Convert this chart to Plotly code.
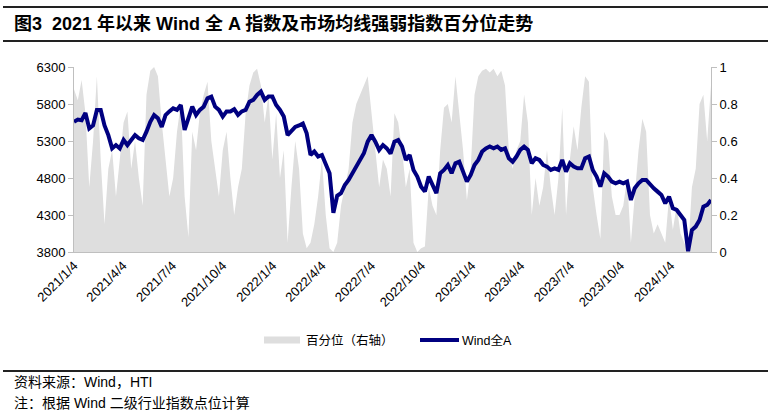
import plotly.graph_objects as go
import pandas as pd

# ---------------- data ----------------
start_date = "2021-01-04"

wind_a = [
    5561, 5590, 5580, 5680, 5470, 5510, 5720, 5720, 5510, 5380,
    5200, 5245, 5200, 5314, 5245, 5314, 5380, 5337, 5314, 5427,
    5560, 5650, 5607, 5490, 5650, 5700, 5742, 5720, 5787, 5450,
    5630, 5764, 5650, 5720, 5764, 5877, 5900, 5764, 5720, 5630,
    5700, 5700, 5730, 5652, 5700, 5720, 5831, 5855, 5922, 5967,
    5855, 5900, 5900, 5787, 5720, 5630, 5381, 5427, 5490, 5510,
    5537, 5404, 5111, 5158, 5090, 5111, 4976, 4864, 4330, 4560,
    4594, 4706, 4773, 4864, 4976, 5044, 5134, 5291, 5381, 5291,
    5179, 5245, 5200, 5130, 5291, 5314, 5225, 5044, 5111, 4909,
    4819, 4683, 4616, 4819, 4706, 4594, 4864, 4909, 4976, 4864,
    4999, 5020, 4886, 4751, 4841, 4976, 5044, 5157, 5200, 5225,
    5200, 5225, 5180, 5200, 5066, 5020, 5090, 5180, 5225, 5180,
    4999, 5066, 5044, 4976, 4954, 4909, 4931, 4909, 5044, 4886,
    4999, 4954, 4931, 4931, 5066, 5090, 4909, 4819, 4683, 4864,
    4819, 4751, 4728, 4751, 4728, 4751, 4503, 4661, 4728, 4773,
    4773, 4706, 4661, 4616, 4571, 4458, 4548, 4391, 4368, 4301,
    4233, 3810, 4098, 4143, 4233, 4413, 4436, 4503,
]

percentile = [
    0.88, 0.82, 0.93, 0.75, 0.35, 0.60, 0.95, 0.50, 0.15, 0.45,
    0.55, 0.30, 0.50, 0.70, 0.76, 0.45, 0.60, 0.40, 0.25, 0.85,
    0.98, 1.00, 0.95, 0.70, 0.50, 0.30, 0.40, 0.65, 0.80, 0.30,
    0.08, 0.65, 0.55, 0.75, 0.85, 0.92, 0.60, 0.45, 0.30, 0.55,
    0.65, 0.40, 0.20, 0.35, 0.45, 0.75, 0.90, 0.97, 0.99, 0.90,
    0.70, 0.85, 0.50, 0.75, 0.40, 0.55, 0.05, 0.35, 0.60, 0.45,
    0.10, 0.02, 0.05, 0.15, 0.30, 0.50, 0.20, 0.02, 0.00, 0.05,
    0.25, 0.35, 0.45, 0.70, 0.80, 0.85, 0.90, 0.95, 0.75, 0.55,
    0.35, 0.50, 0.45, 0.30, 0.75, 0.70, 0.55, 0.35, 0.45, 0.05,
    0.00, 0.02, 0.03, 0.35, 0.25, 0.20, 0.55, 0.78, 0.80, 0.70,
    0.95, 0.75, 0.55, 0.28, 0.45, 0.85, 0.95, 0.98, 0.99, 0.97,
    0.99, 0.95, 0.98, 0.90, 0.55, 0.45, 0.55, 0.60, 0.85, 0.70,
    0.20, 0.40, 0.25, 0.35, 0.55, 0.35, 0.20, 0.40, 0.78, 0.20,
    0.50, 0.68, 0.55, 0.78, 0.95, 0.92, 0.35, 0.20, 0.07, 0.65,
    0.60, 0.30, 0.20, 0.20, 0.25, 0.40, 0.05, 0.30, 0.55, 0.72,
    0.65, 0.20, 0.10, 0.15, 0.10, 0.05, 0.30, 0.12, 0.25, 0.10,
    0.05, 0.00, 0.35, 0.45, 0.80, 0.85, 0.60, 0.90,
]

dates = pd.date_range(start_date, periods=len(wind_a), freq="7D")

x_tick_vals = ["2021-01-04", "2021-04-04", "2021-07-04", "2021-10-04",
               "2022-01-04", "2022-04-04", "2022-07-04", "2022-10-04",
               "2023-01-04", "2023-04-04", "2023-07-04", "2023-10-04",
               "2024-01-04"]
x_tick_text = ["2021/1/4", "2021/4/4", "2021/7/4", "2021/10/4",
               "2022/1/4", "2022/4/4", "2022/7/4", "2022/10/4",
               "2023/1/4", "2023/4/4", "2023/7/4", "2023/10/4",
               "2024/1/4"]
left_ticks = [3800, 4300, 4800, 5300, 5800, 6300]
right_ticks = [0, 0.2, 0.4, 0.6, 0.8, 1]
right_tick_text = ["0", "0.2", "0.4", "0.6", "0.8", "1"]

title_text = "图3  2021 年以来 Wind 全 A 指数及市场均线强弱指数百分位走势"
legend_names = ["百分位（右轴）", "Wind全A"]
source_text = "资料来源：Wind，HTI"
note_text = "注：根据 Wind 二级行业指数点位计算"

# ---------------- style ----------------
W, H = 770, 415
L, R, T, B = 74, 711, 67, 252
GRAY = "#DEDEDE"
NAVY = "#000080"
AXIS = "#BFBFBF"
FONT = "Liberation Sans, Noto Sans CJK SC, sans-serif"
CJK = "Liberation Sans, Noto Sans CJK SC, sans-serif"


def px(x):
    return (x - L) / (R - L)


def py(y):
    return (B - y) / (B - T)


fig = go.Figure()
fig.add_trace(go.Scatter(
    x=dates, y=percentile, name=legend_names[0], yaxis="y",
    mode="lines", line=dict(width=0, color=GRAY), fill="tozeroy",
    fillcolor=GRAY, showlegend=False, hoverinfo="skip"))
fig.add_trace(go.Scatter(
    x=dates, y=wind_a, name=legend_names[1], yaxis="y2",
    mode="lines", line=dict(width=4, color=NAVY), showlegend=False))

fig.update_layout(
    width=W, height=H, autosize=False,
    margin=dict(l=L, r=W - R, t=T, b=H - B, pad=0),
    paper_bgcolor="white", plot_bgcolor="white",
    font=dict(family=FONT, size=13, color="#000000"),
    xaxis=dict(type="date", range=[dates[0], dates[-1]],
               tickvals=x_tick_vals, ticktext=x_tick_text, tickangle=-45,
               showline=True, linecolor=AXIS, linewidth=1, ticks="",
               showgrid=False, zeroline=False,
               tickfont=dict(size=13, family=FONT)),
    yaxis=dict(side="right", range=[0, 1], tickvals=right_ticks,
               ticktext=right_tick_text, showline=True, linecolor=AXIS,
               ticks="outside", ticklen=5, tickcolor=AXIS, showgrid=False,
               zeroline=False, tickfont=dict(size=13, family=FONT)),
    yaxis2=dict(side="left", overlaying="y", anchor="x",
                range=[3800, 6300], tickvals=left_ticks, showline=True,
                linecolor=AXIS, ticks="outside", ticklen=5, tickcolor=AXIS,
                showgrid=False, zeroline=False,
                tickfont=dict(size=13, family=FONT)),
)

shapes = [
    dict(type="line", xref="paper", yref="paper", x0=px(3), x1=px(768),
         y0=py(7), y1=py(7), line=dict(color="#222222", width=2)),
    dict(type="line", xref="paper", yref="paper", x0=px(3), x1=px(768),
         y0=py(41), y1=py(41), line=dict(color="#222222", width=2)),
    dict(type="line", xref="paper", yref="paper", x0=px(3), x1=px(768),
         y0=py(371), y1=py(371), line=dict(color="#222222", width=2)),
    dict(type="rect", xref="paper", yref="paper", x0=px(264), x1=px(300),
         y0=py(343.5), y1=py(336.5), line=dict(width=0), fillcolor=GRAY),
    dict(type="line", xref="paper", yref="paper", x0=px(420), x1=px(459),
         y0=py(340), y1=py(340), line=dict(color=NAVY, width=4)),
]
fig.update_layout(shapes=shapes)


def note(text, x, y, size, bold=False):
    return dict(text=("<b>" + text + "</b>") if bold else text,
                xref="paper", yref="paper", x=px(x), y=py(y),
                xanchor="left", yanchor="middle", showarrow=False,
                font=dict(size=size, family=CJK, color="#000000"))


annotations = [
    note(title_text, 12, 24, 18, bold=True),
    note(legend_names[0], 304, 340, 12.5),
    note(legend_names[1], 460, 340, 12.5),
    note(source_text, 12, 382, 14),
    note(note_text, 12, 403, 14),
]
fig.update_layout(annotations=annotations)

fig.write_html("out.html")
